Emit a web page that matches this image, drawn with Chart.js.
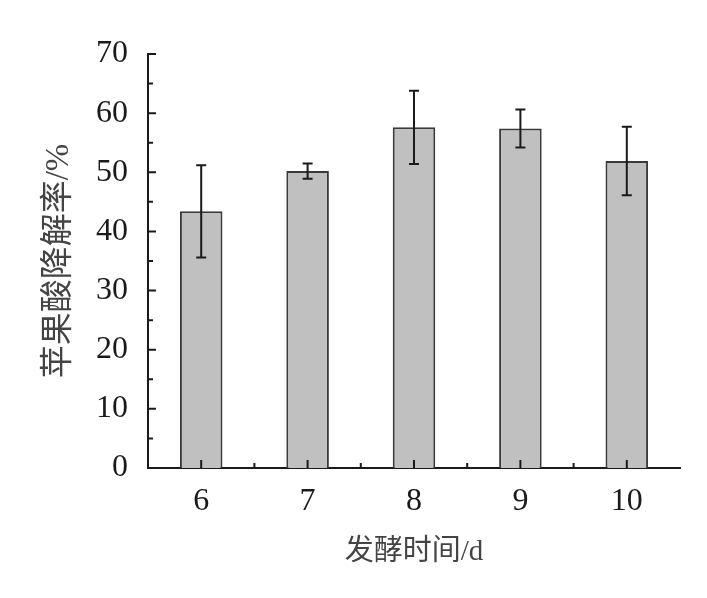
<!DOCTYPE html>
<html>
<head>
<meta charset="utf-8">
<script src="https://cdn.jsdelivr.net/npm/chart.js@4/dist/chart.umd.min.js"></script>
<style>
  html, body { margin: 0; padding: 0; background: #fff; }
  #wrap { width: 707px; height: 598px; }
</style>
</head>
<body>
<div id="wrap"><canvas id="chart" width="707" height="598"></canvas></div>
<script>
// fermentation days and malic acid degradation rate (%)
const days = ['6', '7', '8', '9', '10'];
const rates = [43.4, 50.2, 57.6, 57.4, 51.9];
const errors = [7.8, 1.3, 6.2, 3.2, 5.8];
const yTicks = [0, 10, 20, 30, 40, 50, 60, 70];
const yMinorTicks = [5, 15, 25, 35, 45, 55, 65];

const serif = "'Liberation Serif', 'Noto Sans CJK SC'";
const ink = '#1a1a1a';

// error bars + inward tick marks
const extras = {
  id: 'extras',
  afterDatasetsDraw(chart) {
    const ctx = chart.ctx;
    const y = chart.scales.y;
    const x = chart.scales.x;
    const meta = chart.getDatasetMeta(0);
    ctx.save();
    ctx.strokeStyle = ink;
    ctx.lineWidth = 2;
    meta.data.forEach((bar, i) => {
      const hi = y.getPixelForValue(rates[i] + errors[i]);
      const lo = y.getPixelForValue(rates[i] - errors[i]);
      ctx.beginPath();
      ctx.moveTo(bar.x, hi); ctx.lineTo(bar.x, lo);
      ctx.moveTo(bar.x - 5, hi); ctx.lineTo(bar.x + 5, hi);
      ctx.moveTo(bar.x - 5, lo); ctx.lineTo(bar.x + 5, lo);
      ctx.stroke();
    });

    // y ticks pointing right
    const ax = chart.chartArea.left;
    ctx.beginPath();
    yTicks.forEach(v => {
      const py = y.getPixelForValue(v);
      ctx.moveTo(ax, py); ctx.lineTo(ax + 8, py);
    });
    yMinorTicks.forEach(v => {
      const py = y.getPixelForValue(v);
      ctx.moveTo(ax, py); ctx.lineTo(ax + 5, py);
    });
    // x ticks pointing up
    const ay = chart.chartArea.bottom;
    days.forEach((d, i) => {
      const px = x.getPixelForValue(i);
      ctx.moveTo(px, ay); ctx.lineTo(px, ay - 8);
      if (i < days.length - 1) {
        const mid = (px + x.getPixelForValue(i + 1)) / 2;
        ctx.moveTo(mid, ay); ctx.lineTo(mid, ay - 5);
      }
    });
    ctx.stroke();
    ctx.restore();
  }
};

new Chart(document.getElementById('chart'), {
  type: 'bar',
  data: {
    labels: days,
    datasets: [{
      data: rates,
      backgroundColor: '#c0c0c0',
      borderColor: '#3a3a3a',
      borderWidth: 2,
      borderSkipped: 'bottom',
      barPercentage: 0.4,
      categoryPercentage: 1
    }]
  },
  options: {
    responsive: false,
    animation: false,
    layout: { padding: { left: 40, right: 27, top: 54, bottom: 28 } },
    plugins: { legend: { display: false }, tooltip: { enabled: false } },
    scales: {
      x: {
        grid: { display: false, drawTicks: false },
        border: { display: true, color: ink, width: 2 },
        ticks: { color: ink, padding: 14, font: { family: serif, size: 32 } },
        title: {
          display: true, text: '发酵时间/d', color: '#444',
          padding: 0, font: { family: serif, size: 29 }
        },
        afterFit(s) { s.height = 102; }
      },
      y: {
        min: 0, max: 70,
        grid: { display: false, drawTicks: false },
        border: { display: true, color: ink, width: 2 },
        ticks: { stepSize: 10, color: ink, padding: 20, font: { family: serif, size: 32 } },
        title: {
          display: true, text: '苹果酸降解率/%', color: '#444',
          padding: 0, font: { family: serif, size: 33 }
        },
        afterFit(s) { s.width = 108; }
      }
    }
  },
  plugins: [extras]
});
</script>
</body>
</html>
